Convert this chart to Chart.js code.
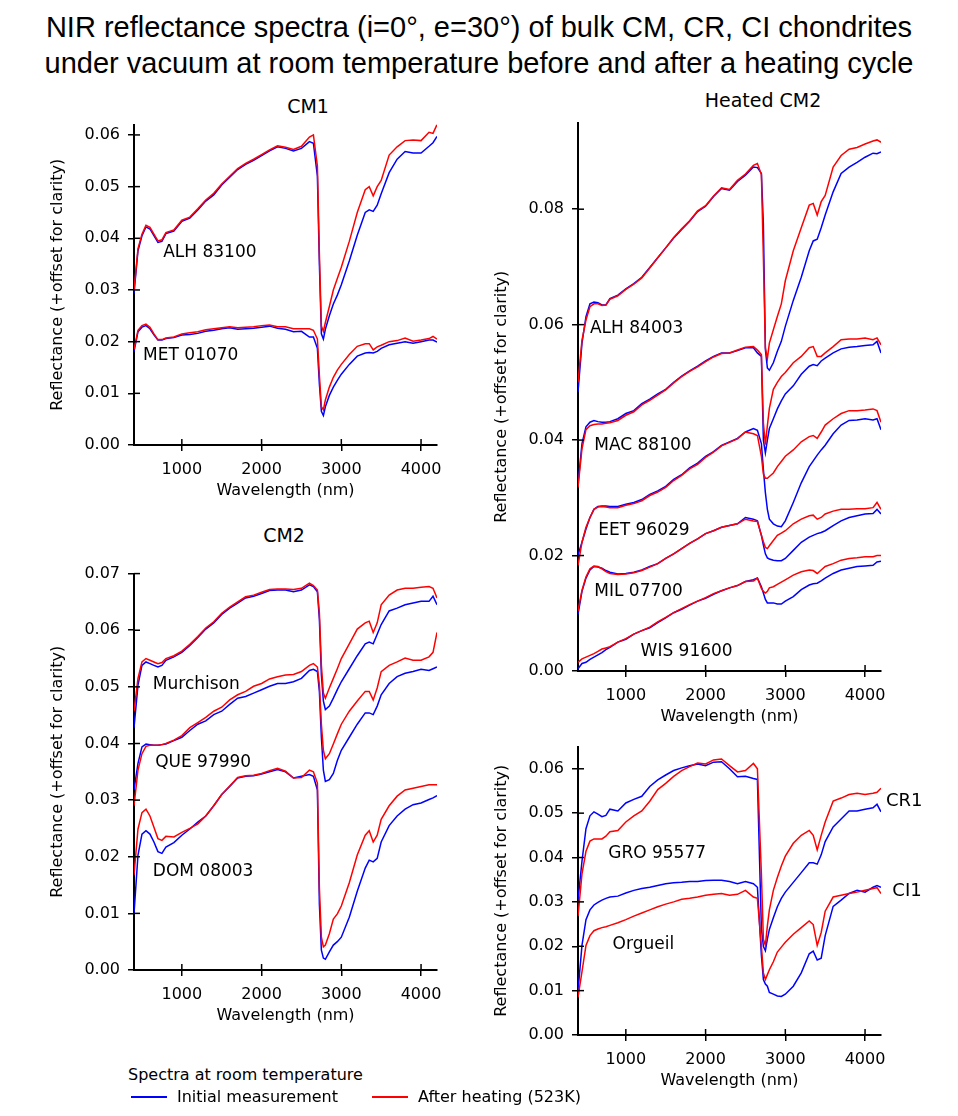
<!DOCTYPE html>
<html>
<head>
<meta charset="utf-8">
<script src="https://cdn.jsdelivr.net/npm/chart.js@4.4.1/dist/chart.umd.min.js"></script>
<style>
  body { margin: 0; background: #fff; width: 958px; height: 1116px; position: relative; overflow: hidden;
         font-family: "DejaVu Sans", sans-serif; color: #000; }
  canvas { position: absolute; }
  .title { position: absolute; left: 0; top: 9px; width: 958px; text-align: center;
           font-family: "Liberation Sans", Arial, sans-serif; font-size: 29px; line-height: 36px; }
  .ptitle { position: absolute; font-size: 19px; line-height: 22px; transform: translate(-50%, -50%); white-space: nowrap; }
  .txt { position: absolute; font-size: 16px; line-height: 20px; white-space: nowrap; }
  .swatch { position: absolute; height: 2px; width: 36px; }
</style>
</head>
<body>
<div class="title">NIR reflectance spectra (i=0°, e=30°) of bulk CM, CR, CI chondrites<br>under vacuum at room temperature before and after a heating cycle</div>
<div class="ptitle" style="left:308px;top:106px">CM1</div>
<div class="ptitle" style="left:763px;top:100px">Heated CM2</div>
<div class="ptitle" style="left:284px;top:535px">CM2</div>

<canvas id="cm1" width="432" height="393" style="left:30px;top:107px"></canvas>
<canvas id="heated" width="432" height="621" style="left:474px;top:105px"></canvas>
<canvas id="cm2" width="432" height="469" style="left:30px;top:556px"></canvas>
<canvas id="crci" width="484" height="361" style="left:474px;top:729px"></canvas>

<div class="txt" style="left:128px;top:1065px">Spectra at room temperature</div>
<div class="swatch" style="left:131px;top:1096px;background:#0000ff"></div>
<div class="txt" style="left:177px;top:1087px">Initial measurement</div>
<div class="swatch" style="left:372px;top:1096px;background:#ff0000"></div>
<div class="txt" style="left:418px;top:1087px">After heating (523K)</div>

<script>
Chart.defaults.font.family = "'DejaVu Sans', sans-serif";
Chart.defaults.color = '#000';

// wavelengths (nm) shared by every spectrum
const wl = [400,450,500,550,600,650,700,750,800,900,1000,1100,1200,1300,1400,1500,1600,1700,1800,1900,
  2000,2100,2200,2300,2400,2500,2600,2650,2700,2725,2750,2775,2800,2850,2900,2950,3000,3100,3200,3300,
  3350,3400,3450,3500,3600,3700,3800,3900,4000,4100,4150,4200];
const xTicks = [1000, 2000, 3000, 4000];

// CM1
const alh83100Init = [.0294,.0376,.0405,.0422,.0418,.0405,.0392,.0394,.0409,.0414, .0433,.0439,.0455,.0472,.0484,.0503,.0518,.0533,.0543,.0551, .0560,.0569,.0577,.0574,.0569,.0574,.0587,.0584,.0520,.0350, .0215,.0205,.0224,.0250,.0273,.0290,.0310,.0356,.0406,.0450, .0455,.0452,.0464,.0486,.0527,.0553,.0568,.0565,.0565,.0578, .0585,.0597];
const alh83100Heat = [.0300,.0380,.0408,.0425,.0421,.0408,.0395,.0397,.0411,.0416, .0435,.0441,.0457,.0474,.0487,.0505,.0520,.0535,.0545,.0553, .0562,.0571,.0579,.0576,.0572,.0578,.0596,.0600,.0540,.0370, .0230,.0220,.0237,.0268,.0300,.0322,.0344,.0394,.0450,.0494, .0500,.0482,.0500,.0512,.0561,.0577,.0589,.0590,.0589,.0605, .0603,.0620];
const met01070Init = [.0181,.0219,.0228,.0231,.0225,.0213,.0203,.0203,.0206,.0208, .0213,.0214,.0216,.0220,.0222,.0225,.0227,.0224,.0225,.0226, .0228,.0230,.0226,.0224,.0219,.0220,.0209,.0209,.0187,.0118, .0065,.0057,.0074,.0096,.0112,.0125,.0137,.0156,.0172,.0178, .0179,.0178,.0181,.0187,.0194,.0197,.0200,.0197,.0200,.0203, .0203,.0199];
const met01070Heat = [.0185,.0222,.0231,.0234,.0228,.0215,.0204,.0204,.0207,.0209, .0215,.0217,.0219,.0223,.0225,.0227,.0229,.0227,.0228,.0229, .0231,.0232,.0229,.0229,.0225,.0225,.0225,.0222,.0205,.0135, .0074,.0068,.0087,.0112,.0131,.0145,.0156,.0175,.0191,.0196, .0196,.0184,.0190,.0193,.0200,.0202,.0207,.0201,.0203,.0206, .0210,.0205];

// Heated CM2
const alh84003Init = [.0483,.0568,.0614,.0636,.0639,.0638,.0634,.0634,.0645,.0651, .0662,.0671,.0682,.0699,.0716,.0733,.0750,.0765,.0779,.0796, .0805,.0822,.0836,.0833,.0848,.0859,.0873,.0872,.0862,.0773, .0557,.0525,.0521,.0534,.0554,.0571,.0597,.0642,.0682,.0728, .0745,.0748,.0768,.0790,.0830,.0862,.0873,.0881,.0890,.0897, .0896,.0899];
const alh84003Heat = [.0500,.0573,.0608,.0631,.0636,.0636,.0633,.0634,.0644,.0650, .0661,.0670,.0681,.0698,.0716,.0733,.0751,.0766,.0780,.0797, .0806,.0823,.0837,.0834,.0850,.0861,.0876,.0879,.0860,.0716, .0560,.0541,.0568,.0591,.0614,.0636,.0676,.0728,.0768,.0807, .0810,.0790,.0813,.0824,.0873,.0893,.0904,.0907,.0913,.0918, .0920,.0916];
const mac88100Init = [.0323,.0394,.0423,.0431,.0434,.0432,.0431,.0431,.0432,.0437, .0446,.0451,.0463,.0471,.0480,.0488,.0500,.0511,.0520,.0528, .0537,.0545,.0551,.0551,.0555,.0560,.0560,.0551,.0545,.0400, .0378,.0400,.0420,.0437,.0454,.0468,.0480,.0494,.0514,.0528, .0531,.0529,.0537,.0542,.0551,.0558,.0561,.0562,.0564,.0565, .0571,.0551];
const mac88100Heat = [.0318,.0385,.0418,.0425,.0427,.0428,.0428,.0429,.0430,.0434, .0443,.0449,.0461,.0469,.0478,.0487,.0499,.0510,.0519,.0527, .0536,.0544,.0550,.0551,.0556,.0561,.0562,.0556,.0548,.0430, .0392,.0425,.0455,.0488,.0500,.0510,.0517,.0534,.0545,.0560, .0562,.0545,.0545,.0551,.0562,.0574,.0575,.0575,.0577,.0574, .0577,.0565];
const eet96029Init = [.0201,.0223,.0246,.0266,.0280,.0285,.0286,.0286,.0285,.0285, .0289,.0292,.0297,.0306,.0312,.0320,.0332,.0340,.0352,.0360, .0372,.0380,.0391,.0397,.0403,.0414,.0420,.0417,.0394,.0349, .0309,.0280,.0263,.0255,.0251,.0250,.0260,.0292,.0326,.0354, .0364,.0374,.0383,.0391,.0411,.0426,.0434,.0435,.0437,.0435, .0437,.0418];
const eet96029Heat = [.0183,.0223,.0249,.0266,.0280,.0284,.0285,.0284,.0283,.0283, .0287,.0290,.0295,.0304,.0310,.0318,.0330,.0339,.0350,.0358, .0370,.0379,.0390,.0396,.0402,.0414,.0411,.0408,.0372,.0341, .0334,.0334,.0337,.0343,.0354,.0363,.0372,.0383,.0397,.0406, .0408,.0403,.0414,.0426,.0437,.0446,.0451,.0451,.0452,.0454, .0451,.0431];
const mil07700Init = [.0098,.0138,.0161,.0175,.0181,.0180,.0178,.0174,.0171,.0168, .0169,.0171,.0175,.0181,.0186,.0195,.0203,.0212,.0221,.0229, .0238,.0243,.0249,.0252,.0255,.0266,.0263,.0260,.0235,.0218, .0203,.0196,.0194,.0192,.0191,.0191,.0195,.0209,.0223,.0232, .0235,.0238,.0240,.0243,.0252,.0260,.0266,.0269,.0272,.0273, .0280,.0272];
const mil07700Heat = [.0104,.0140,.0163,.0177,.0182,.0181,.0177,.0172,.0169,.0167, .0168,.0170,.0174,.0180,.0186,.0195,.0203,.0212,.0221,.0229, .0238,.0243,.0249,.0252,.0255,.0263,.0260,.0259,.0235,.0224, .0214,.0212,.0217,.0226,.0235,.0239,.0243,.0255,.0263,.0269, .0270,.0263,.0266,.0272,.0277,.0280,.0280,.0281,.0281,.0283, .0292,.0280];
const wis91600Init = [.0004,.0013,.0015,.0020,.0024,.0028,.0032,.0037,.0041,.0050, .0055,.0064,.0070,.0075,.0084,.0092,.0101,.0107,.0114,.0121, .0126,.0133,.0139,.0144,.0148,.0155,.0158,.0161,.0146,.0135, .0124,.0118,.0118,.0118,.0116,.0116,.0121,.0129,.0141,.0149, .0151,.0152,.0156,.0161,.0169,.0175,.0178,.0181,.0182,.0183, .0189,.0190];
const wis91600Heat = [.0015,.0021,.0024,.0027,.0030,.0034,.0038,.0040,.0042,.0050, .0056,.0064,.0070,.0076,.0085,.0093,.0101,.0108,.0115,.0121, .0127,.0134,.0139,.0144,.0148,.0155,.0156,.0161,.0143,.0138, .0135,.0138,.0144,.0146,.0150,.0154,.0158,.0166,.0172,.0175, .0174,.0169,.0175,.0181,.0186,.0192,.0195,.0196,.0198,.0198, .0200,.0200];

// CM2
const murchisonInit = [.0428,.0503,.0538,.0544,.0541,.0538,.0535,.0538,.0547,.0553, .0561,.0573,.0587,.0602,.0613,.0628,.0639,.0648,.0657,.0660, .0665,.0670,.0671,.0671,.0668,.0671,.0680,.0677,.0668,.0619, .0521,.0475,.0460,.0466,.0480,.0495,.0509,.0532,.0555,.0576, .0579,.0576,.0593,.0610,.0634,.0639,.0645,.0648,.0651,.0651, .0660,.0645];
const murchisonHeat = [.0457,.0515,.0544,.0550,.0547,.0544,.0541,.0543,.0550,.0555, .0563,.0575,.0589,.0604,.0615,.0630,.0641,.0650,.0659,.0662, .0667,.0672,.0673,.0673,.0672,.0674,.0683,.0679,.0671,.0631, .0538,.0489,.0480,.0498,.0515,.0532,.0550,.0576,.0602,.0613, .0616,.0596,.0613,.0645,.0662,.0671,.0674,.0674,.0676,.0677, .0674,.0657];
const que97990Init = [.0318,.0365,.0394,.0399,.0398,.0397,.0397,.0398,.0399,.0405, .0411,.0423,.0434,.0440,.0451,.0457,.0469,.0480,.0483,.0489, .0495,.0501,.0506,.0506,.0509,.0515,.0529,.0531,.0527,.0492, .0411,.0353,.0333,.0336,.0347,.0370,.0388,.0411,.0434,.0454, .0454,.0451,.0466,.0486,.0506,.0518,.0524,.0527,.0531,.0529, .0532,.0535];
const que97990Heat = [.0290,.0353,.0382,.0395,.0397,.0397,.0397,.0398,.0400,.0406, .0414,.0428,.0437,.0446,.0457,.0464,.0477,.0486,.0492,.0501, .0506,.0514,.0518,.0521,.0522,.0527,.0538,.0541,.0535,.0503, .0434,.0388,.0373,.0382,.0399,.0417,.0434,.0457,.0475,.0492, .0492,.0477,.0498,.0527,.0538,.0544,.0551,.0547,.0547,.0553, .0561,.0596];
const dom08003Init = [.0099,.0203,.0240,.0246,.0240,.0226,.0209,.0206,.0217,.0225, .0238,.0249,.0261,.0272,.0290,.0310,.0324,.0339,.0342,.0343, .0346,.0350,.0354,.0350,.0339,.0342,.0345,.0342,.0318,.0116, .0035,.0021,.0019,.0032,.0044,.0050,.0058,.0093,.0139,.0180, .0194,.0191,.0197,.0226,.0255,.0272,.0284,.0292,.0295,.0301, .0304,.0308];
const dom08003Heat = [.0168,.0249,.0278,.0284,.0272,.0252,.0232,.0229,.0236,.0235, .0243,.0250,.0258,.0272,.0290,.0310,.0325,.0340,.0343,.0344, .0347,.0352,.0356,.0351,.0339,.0340,.0353,.0350,.0330,.0145, .0058,.0041,.0044,.0064,.0090,.0099,.0113,.0154,.0203,.0238, .0246,.0226,.0238,.0266,.0290,.0307,.0318,.0321,.0324,.0327, .0327,.0327];

// CR1 / CI1
const gro95577Init = [.0304,.0392,.0465,.0494,.0503,.0498,.0492,.0495,.0509,.0505, .0523,.0531,.0538,.0560,.0575,.0586,.0596,.0602,.0607,.0611, .0607,.0615,.0616,.0600,.0582,.0583,.0578,.0576,.0240,.0200, .0190,.0216,.0238,.0264,.0289,.0308,.0322,.0344,.0366,.0388, .0388,.0385,.0406,.0436,.0469,.0487,.0505,.0505,.0509,.0512, .0520,.0503];
const gro95577Heat = [.0268,.0363,.0414,.0437,.0442,.0442,.0442,.0448,.0458,.0461, .0480,.0494,.0505,.0527,.0553,.0567,.0583,.0596,.0605,.0613, .0611,.0620,.0622,.0607,.0593,.0596,.0612,.0600,.0363,.0216, .0202,.0246,.0282,.0326,.0355,.0381,.0403,.0432,.0450,.0461, .0450,.0417,.0450,.0480,.0527,.0534,.0542,.0545,.0542,.0545, .0547,.0556];
const orgueilInit = [.0099,.0202,.0260,.0282,.0293,.0299,.0304,.0308,.0311,.0313, .0320,.0326,.0330,.0333,.0337,.0341,.0343,.0344,.0346,.0346, .0348,.0349,.0349,.0346,.0341,.0346,.0341,.0333,.0180,.0125, .0115,.0110,.0096,.0092,.0088,.0087,.0092,.0110,.0140,.0183, .0189,.0169,.0173,.0224,.0290,.0304,.0319,.0326,.0322,.0333, .0337,.0333];
const orgueilHeat = [.0085,.0143,.0202,.0224,.0235,.0239,.0242,.0244,.0247,.0253, .0260,.0268,.0275,.0282,.0289,.0295,.0300,.0306,.0308,.0311, .0315,.0317,.0319,.0315,.0317,.0326,.0311,.0308,.0200,.0140, .0125,.0136,.0147,.0165,.0187,.0198,.0209,.0227,.0242,.0257, .0249,.0202,.0231,.0279,.0311,.0315,.0319,.0322,.0326,.0330, .0332,.0319];

// sample names, placed at [wavelength, reflectance]
const cm1Names = [['ALH 83100', 766, .0373], ['MET 01070', 513, .0174]];
const heatedNames = [['ALH 84003', 550, .0594], ['MAC 88100', 604, .0390], ['EET 96029', 654, .0244],
                     ['MIL 07700', 604, .0137], ['WIS 91600', 1185, .0034]];
const cm2Names = [['Murchison', 636, .0504], ['QUE 97990', 665, .0366], ['DOM 08003', 636, .0174]];
const crciNames = [['GRO 95577', 779, .0410], ['Orgueil', 834, .0203]];
const groupNames = [['CR1', 4263, .0527], ['CI1', 4342, .0323]];

function pts(vals) {
  return vals.map((v, i) => ({x: wl[i], y: v}));
}

function pair(init, heated) {
  return [
    {data: pts(heated), borderColor: '#ff0000', order: 0},
    {data: pts(init), borderColor: '#0000ff', order: 1}
  ];
}

// ticks also poke into the plot, like the original
const innerTicks = {
  id: 'innerTicks',
  afterDraw(chart) {
    const {ctx, chartArea, scales} = chart;
    ctx.save();
    ctx.strokeStyle = '#000';
    ctx.lineWidth = 1.5;
    scales.x.ticks.forEach(t => {
      const px = scales.x.getPixelForValue(t.value);
      ctx.beginPath(); ctx.moveTo(px, chartArea.bottom); ctx.lineTo(px, chartArea.bottom - 6); ctx.stroke();
    });
    scales.y.ticks.forEach(t => {
      const py = scales.y.getPixelForValue(t.value);
      ctx.beginPath(); ctx.moveTo(chartArea.left, py); ctx.lineTo(chartArea.left + 6, py); ctx.stroke();
    });
    ctx.restore();
  }
};

const nameLabels = {
  id: 'nameLabels',
  afterDraw(chart, args, opts) {
    const {ctx, scales} = chart;
    ctx.save();
    ctx.fillStyle = '#000';
    ctx.textAlign = 'left';
    ctx.textBaseline = 'middle';
    (opts.groups || []).forEach(g => {
      ctx.font = g.size + 'px "DejaVu Sans"';
      g.names.forEach(([txt, x, y]) => {
        ctx.fillText(txt, scales.x.getPixelForValue(x), scales.y.getPixelForValue(y));
      });
    });
    ctx.restore();
  }
};

function axisGrid() {
  return {drawOnChartArea: false, drawTicks: true, tickLength: 6, color: '#000', lineWidth: 1.5};
}

function makePanel(id, datasets, yMax, yStep, groups, padRight) {
  return new Chart(document.getElementById(id), {
    type: 'line',
    data: {datasets: datasets},
    options: {
      responsive: false,
      animation: false,
      layout: {padding: {top: 10, right: padRight, left: 0, bottom: 0}},
      elements: {point: {radius: 0}, line: {borderWidth: 1.5, tension: 0}},
      plugins: {legend: {display: false}, tooltip: {enabled: false}, nameLabels: {groups: groups}},
      scales: {
        x: {
          type: 'linear', min: 400, max: 4200,
          afterFit: s => { s.height = 55; },
          afterBuildTicks: s => { s.ticks = xTicks.map(v => ({value: v})); },
          grid: axisGrid(),
          border: {color: '#000', width: 2},
          ticks: {padding: 9, maxRotation: 0, autoSkip: false, font: {size: 16},
                  callback: v => String(v)},
          title: {display: true, text: 'Wavelength (nm)', font: {size: 16}, padding: {top: 0, bottom: 0}}
        },
        y: {
          min: 0, max: yMax,
          afterFit: s => { s.width = 104; },
          grid: axisGrid(),
          border: {color: '#000', width: 2},
          ticks: {stepSize: yStep, includeBounds: false, padding: 8, font: {size: 16},
                  callback: v => Number(v).toFixed(2)},
          title: {display: true, text: 'Reflectance (+offset for clarity)', font: {size: 16}, padding: {top: 18, bottom: 0}}
        }
      }
    },
    plugins: [innerTicks, nameLabels]
  });
}

makePanel('cm1', [...pair(alh83100Init, alh83100Heat), ...pair(met01070Init, met01070Heat)],
  0.062, 0.01, [{size: 17, names: cm1Names}], 25);

makePanel('heated', [...pair(alh84003Init, alh84003Heat), ...pair(mac88100Init, mac88100Heat),
  ...pair(eet96029Init, eet96029Heat), ...pair(mil07700Init, mil07700Heat), ...pair(wis91600Init, wis91600Heat)],
  0.095, 0.02, [{size: 17, names: heatedNames}], 25);

makePanel('cm2', [...pair(murchisonInit, murchisonHeat), ...pair(que97990Init, que97990Heat),
  ...pair(dom08003Init, dom08003Heat)],
  0.07, 0.01, [{size: 17, names: cm2Names}], 25);

makePanel('crci', [...pair(gro95577Init, gro95577Heat), ...pair(orgueilInit, orgueilHeat)],
  0.065, 0.01, [{size: 17, names: crciNames}, {size: 18, names: groupNames}], 77);
</script>
</body>
</html>
